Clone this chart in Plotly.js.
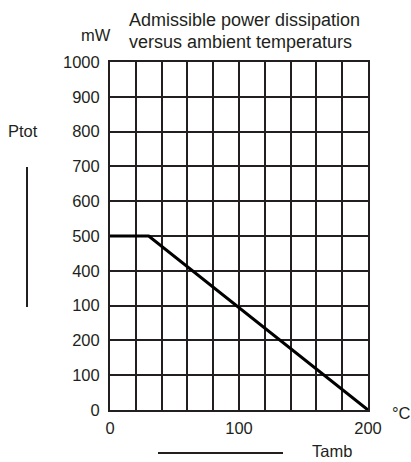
<!DOCTYPE html>
<html>
<head>
<meta charset="utf-8">
<script src="https://cdn.plot.ly/plotly-3.0.1.min.js"></script>
<style>
html,body{margin:0;padding:0;background:#fff;}
#chart{width:411px;height:462px;}
</style>
</head>
<body>
<div id="chart"></div>
<script>
// Data
const temps = [0, 30, 200];
const power = [500, 500, 0];
const xTickVals = [0, 20, 40, 60, 80, 100, 120, 140, 160, 180, 200];
const xTickText = ['0', '', '', '', '', '100', '', '', '', '', '200'];
const yTickVals = [0, 100, 200, 300, 400, 500, 600, 700, 800, 900, 1000];
const yTickText = ['0', '100', '200', '100', '400', '500', '600', '700', '800', '900', '1000'];

const ink = '#231f20';
const font = 'Liberation Sans, Arial, sans-serif';

const trace = {
  x: temps, y: power, type: 'scatter', mode: 'lines',
  line: {color: '#000', width: 3}, hoverinfo: 'skip', cliponaxis: false
};

const L = 110, R = 43, T = 62, B = 52;
const W = 411 - L - R, H = 462 - T - B;
const px = v => (v - L) / W;
const py = v => (462 - B - v) / H;

const layout = {
  width: 411, height: 462,
  margin: {l: L, r: R, t: T, b: B, pad: 0},
  paper_bgcolor: '#fff', plot_bgcolor: '#fff',
  showlegend: false,
  font: {family: font, color: ink, size: 16},
  xaxis: {
    range: [0, 200], tickvals: xTickVals, ticktext: xTickText,
    showgrid: true, gridcolor: ink, gridwidth: 2,
    showline: true, linecolor: ink, linewidth: 2, mirror: true,
    zeroline: false, ticks: '', ticklabelstandoff: 2,
    tickfont: {family: font, size: 16.5, color: ink}, fixedrange: true
  },
  yaxis: {
    range: [0, 1000], tickvals: yTickVals, ticktext: yTickText,
    showgrid: true, gridcolor: ink, gridwidth: 2,
    showline: true, linecolor: ink, linewidth: 2, mirror: true,
    zeroline: false, ticks: '', ticklabelstandoff: 5,
    tickfont: {family: font, size: 16.5, color: ink}, fixedrange: true
  },
  shapes: [
    {type: 'line', xref: 'paper', yref: 'paper', x0: px(27), x1: px(27), y0: py(167), y1: py(307),
     line: {color: ink, width: 2}},
    {type: 'line', xref: 'paper', yref: 'paper', x0: px(158), x1: px(283), y0: py(453), y1: py(453),
     line: {color: ink, width: 2}}
  ],
  annotations: [
    {text: 'Admissible power dissipation', xref: 'paper', yref: 'paper', x: px(127), y: py(20),
     xanchor: 'left', yanchor: 'middle', showarrow: false, font: {size: 18, family: font, color: ink}},
    {text: 'versus ambient temperaturs', xref: 'paper', yref: 'paper', x: px(127), y: py(42),
     xanchor: 'left', yanchor: 'middle', showarrow: false, font: {size: 18, family: font, color: ink}},
    {text: 'mW', xref: 'paper', yref: 'paper', x: px(113), y: py(35),
     xanchor: 'right', yanchor: 'middle', showarrow: false, font: {size: 16.5, family: font, color: ink}},
    {text: 'Ptot', xref: 'paper', yref: 'paper', x: px(23), y: py(131),
     xanchor: 'center', yanchor: 'middle', showarrow: false, font: {size: 16.5, family: font, color: ink}},
    {text: '°C', xref: 'paper', yref: 'paper', x: px(390), y: py(413),
     xanchor: 'left', yanchor: 'middle', showarrow: false, font: {size: 16.5, family: font, color: ink}},
    {text: 'Tamb', xref: 'paper', yref: 'paper', x: px(310), y: py(451),
     xanchor: 'left', yanchor: 'middle', showarrow: false, font: {size: 16.5, family: font, color: ink}}
  ]
};

Plotly.newPlot('chart', [trace], layout, {displayModeBar: false, staticPlot: true});
</script>
</body>
</html>
